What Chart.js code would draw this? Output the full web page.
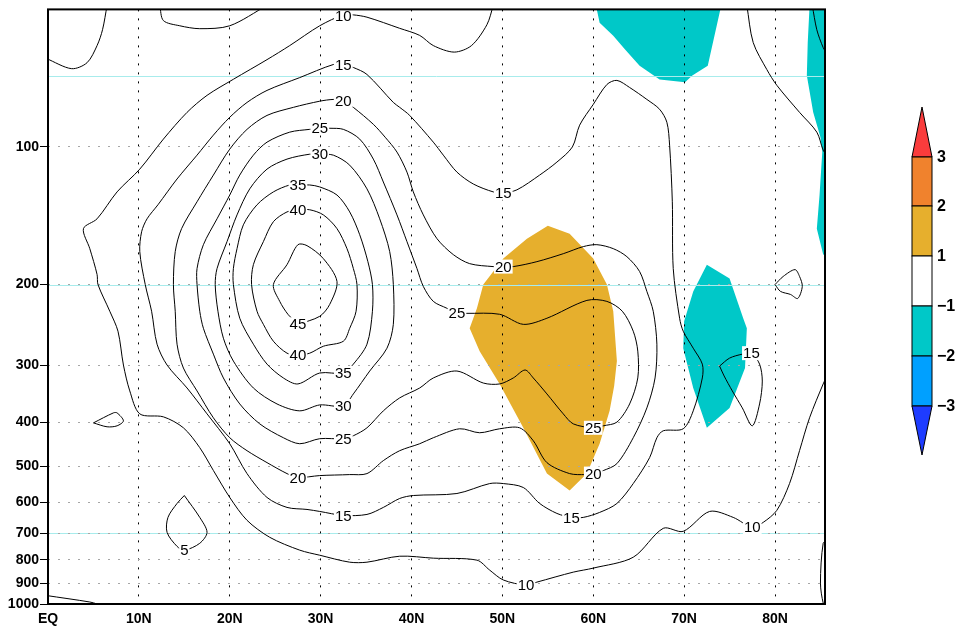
<!DOCTYPE html>
<html lang="en">
<head>
<meta charset="UTF-8">
<title>Zonal wind cross-section</title>
<style>
    body {
        margin: 0;
        background: #fff;
    }
    .wrap {
        width: 965px;
        height: 628px;
    }
</style>
</head>
<body>
<div class="wrap"><canvas id="chart" width="965" height="628"></canvas></div>
<script src="https://cdn.jsdelivr.net/npm/chart.js"></script>
<script>
// axes
const latTicks = [0, 10, 20, 30, 40, 50, 60, 70, 80];
const levTicks = [100, 200, 300, 400, 500, 600, 700, 800, 900, 1000];
const cyanLevels = [70, 200, 700];

// colour key
const cbarLabels = ['3', '2', '1', '\u22121', '\u22122', '\u22123'];
const cbarColors = ['#fa3c3c', '#f0822d', '#e6af2d', '#ffffff', '#00c8c8', '#00a0ff', '#1e3cff'];

// contour lines, [lat, hPa]
const c10 = [[49.0,49],[48.3,54],[46.6,60],[44.7,62],[42.4,60],[40.9,57],[38.7,55],[35.1,52],[33.6,51.4],[32.5,51.4],[29.9,54.3],[26.6,60],[24.1,64.4],[20.4,71.1],[17.5,77.1],[15.3,84],[12.7,96.1],[10.1,111.8],[7.6,125.4],[5.4,143.6],[3.9,150.9],[4.6,166.9],[5.4,190.1],[5.5,200],[6.8,228.8],[7.7,253],[8.3,300],[9.0,341.8],[10.1,383.7],[12.7,389.5],[14.9,411.6],[16.7,454.9],[18.2,510.4],[20.0,584.6],[21.9,656],[24.4,714.6],[27.7,762.4],[29.9,782.1],[33.2,810],[35.1,810],[38.7,786],[42.4,793.8],[47.2,801.8],[48.6,843],[50.1,886],[52.6,909],[53.8,895.6],[57.8,851.7],[60.0,834.6],[64.4,790],[67.7,683],[69.9,693.4],[72.8,627.3],[75.4,646.4],[77.5,679.5],[78.7,662.8],[80.2,623.8],[81.6,545],[82.7,461.7],[83.8,391.4],[85.3,330],[85.8,314]];
const cTopLeft = [[-0.2,64.0],[2.6,67.4],[4.3,65.4],[5.4,60],[6.0,55.4],[6.5,49]];
const cTopU = [[12.3,49],[12.7,52.9],[14.5,54.3],[16.7,55.1],[20.0,54.3],[24.1,49]];
const cTopRight = [[76.9,49],[77.6,59.1],[79.1,67.7],[80.2,73.3],[82.7,84],[84.6,92.8],[85.3,101.6],[85.8,105]];
const cEdgeTop = [[84.1,49],[84.6,55.4],[85.3,60.6],[85.8,63]];
const cEdgeBottom = [[85.8,725],[85.3,736.5],[85.0,900],[85.3,995],[85.6,1010]];
const cBottomLeft = [[-0.2,958],[4.6,990],[5.4,1000],[5.8,1010]];
const cSmall400 = [[5.0,401.5],[7.2,381.8],[7.6,381.8],[8.3,397.4],[7.6,407.5],[6.5,409.5],[5.0,401.5]];
const c5 = [[15.0,578.9],[16.7,646.4],[17.5,697],[16.7,736.5],[15.0,762.6],[14.2,748],[13.1,697],[13.2,646.4],[14.2,602.6],[15.0,578.9]];
const cSmall200 = [[80.0,200],[80.9,192],[82.2,185.5],[82.7,192],[83.0,201.9],[82.5,214.5],[81.7,210.2],[80.6,207],[80.0,200]];
const c15b = [[73.9,301.6],[75.0,289.7],[76.4,284],[77.4,282.6],[78.3,298.6],[78.6,325.2],[78.3,365],[77.5,407.5],[76.4,372.3],[75.3,341.8],[74.4,317],[73.9,301.6]];
const c15 = [[32.5,66.0],[33.6,67.0],[35.1,69.4],[38.0,79.9],[38.7,81.9],[39.8,85.3],[42.4,97.6],[43.5,104.2],[45.0,113.5],[46.8,120.5],[49.0,125.4],[50.1,126],[51.6,124.1],[54.1,115.2],[56.0,107.9],[57.7,100],[58.5,89.6],[60.0,80.7],[61.5,73.0],[62.6,71.5],[64.0,74.1],[65.9,78.7],[67.3,82.7],[68.1,88.3],[68.4,99.1],[68.7,131.8],[68.8,184.5],[69.5,237],[69.9,253],[71.0,275.6],[72.0,298.6],[72.0,320.2],[71.0,377.9],[69.9,413.6],[67.7,417.8],[67.0,432.7],[66.2,478.4],[64.4,545.1],[62.6,602.6],[60.7,630.4],[58.9,646.4],[57.6,646.4],[56.0,633.6],[54.1,602.6],[52.3,556],[50.1,545.1],[48.6,545.1],[45.0,573.1],[40.2,578.9],[38.7,587.6],[36.9,614.7],[35.1,636.8],[32.5,640],[29.9,627.3],[28.5,621],[26.3,614.7],[24.1,584.6],[21.9,518.4],[20.0,446],[17.5,383.7],[15.3,336.8],[13.1,300],[12.0,270.1],[11.4,228.8],[10.7,200],[10.1,169.4],[10.3,153.3],[10.9,143.6],[12.1,133.8],[14.2,117.5],[16.4,104.2],[18.2,94.2],[20.0,86.1],[21.9,79.9],[24.1,75.2],[27.7,70.5],[31.4,66.0],[32.5,66.0]];
const c20 = [[32.5,79.1],[33.6,81.9],[35.8,89.2],[37.1,95.2],[38.4,102.6],[39.5,113.5],[40.2,125.4],[41.3,140.8],[42.8,158.7],[44.6,172],[46.4,180],[49.0,182.7],[50.1,182.7],[51.2,182.7],[53.8,178.2],[56.7,171.2],[58.9,165.2],[60.4,163.6],[62.2,166.9],[63.7,173.8],[65.1,187.3],[65.9,207.1],[66.6,228.8],[67.0,270.1],[66.8,320.2],[65.9,372.3],[64.4,432.7],[62.6,493],[61.1,510.6],[60.0,518.4],[59.1,521],[57.4,518.4],[54.9,490.5],[53.4,439.3],[51.9,411.6],[49.7,413.6],[47.5,422],[45.3,413.6],[42.4,432.7],[40.9,446],[38.7,461.9],[36.9,485.6],[35.1,518.4],[33.2,521],[29.9,523.6],[27.5,528.8],[26.3,518.4],[24.1,490.5],[21.9,461.9],[20.0,432.7],[18.2,391.4],[16.4,341.8],[14.9,304.6],[14.2,270.1],[14.0,228.8],[13.8,200],[14.0,169.4],[14.7,150.9],[16.4,131.8],[18.2,115.2],[20.0,101.1],[21.9,91.5],[24.1,85.3],[27.0,81.9],[29.9,79.4],[31.4,78.7],[32.5,79.1]];
const c25 = [[29.9,91.0],[31.0,91.0],[32.5,91.5],[34.3,96.1],[35.8,106.3],[36.9,119.3],[38.4,140.8],[39.5,161.1],[40.6,184.5],[41.3,201.9],[42.4,217.7],[43.9,225.4],[45.0,231.2],[46.1,231.2],[49.7,232.3],[52.3,244.4],[54.9,237],[59.3,216.6],[61.5,217.7],[63.2,228.8],[64.4,253],[64.9,279.7],[64.9,320.2],[64.0,365],[62.6,400],[61.1,407.5],[60.0,411.6],[57.8,403.5],[56.7,383.7],[54.9,347],[53.4,320.2],[52.5,307.6],[51.2,320.2],[49.7,330],[47.9,328.5],[45.0,309.2],[42.4,320.2],[40.9,336.8],[38.7,354],[36.9,377.9],[35.1,411.6],[33.6,428.4],[32.5,434.8],[29.9,434.8],[27.7,446],[25.9,432.7],[23.3,403.5],[21.1,365],[19.3,320.2],[18.2,284],[17.1,249.3],[16.7,228.8],[16.4,200],[16.4,184.5],[17.1,163.6],[18.6,143.6],[20.0,127.4],[21.1,115.2],[22.6,104.2],[24.1,97.6],[26.6,92.8],[28.8,91.5],[29.9,91.0]];
const c30 = [[29.9,103.7],[31.4,104.2],[33.2,109.6],[35.1,123.5],[36.5,143.6],[37.6,169.4],[38.0,200],[38.0,244.4],[37.3,275.6],[35.4,309.2],[33.6,347],[32.5,368.6],[29.9,366.8],[27.7,377.9],[25.2,365],[22.6,336.8],[20.4,294.1],[19.3,262.1],[18.7,228.8],[18.4,200],[18.6,184.5],[19.7,161.1],[20.8,140.8],[22.2,123.5],[24.1,111.8],[26.3,106.3],[28.8,103.7],[29.9,103.7]];
const c35 = [[27.5,121.1],[28.8,121.1],[29.9,122.3],[31.8,127.4],[33.2,138.7],[34.3,155.6],[35.2,178.2],[35.7,200],[35.7,228.8],[35.1,270.1],[33.6,298.6],[32.5,312.3],[29.9,312.3],[27.5,330],[25.9,320.2],[24.1,298.6],[22.6,270.1],[21.1,237],[20.4,200],[20.4,184.5],[20.8,166.9],[21.5,148],[23.0,133.8],[24.8,125.4],[26.6,121.1],[27.5,121.1]];
const c40 = [[27.5,137.2],[28.8,137.2],[30.3,140.8],[31.8,150.9],[32.9,166.9],[33.6,184.5],[34.0,200],[33.9,228.8],[33.2,249.3],[32.5,266.1],[30.3,272.9],[28.8,282.6],[27.5,285.4],[26.3,282.6],[24.8,266.1],[23.7,244.4],[23.0,228.8],[22.4,200],[22.6,180.9],[23.7,161.1],[24.8,145.7],[26.3,138.7],[27.5,137.2]];
const c45 = [[27.5,244.4],[26.4,232.3],[25.5,217.7],[24.8,200],[26.3,180.9],[27.5,163.6],[28.5,164.4],[30.3,175.5],[31.8,196.9],[31.0,221],[29.9,234.7],[27.5,244.4]];

// shaded areas, [lat, hPa]
const posFill = [[55.0,148.7],[57.4,154.8],[60.0,175.5],[61.5,200],[62.2,228.8],[62.6,294.1],[62.3,333.5],[61.8,377.9],[60.7,446],[59.3,518.4],[57.4,564.5],[54.9,518.4],[52.3,411.6],[49.7,330],[47.5,279.7],[46.4,249.3],[47.2,225.4],[47.9,200],[50.1,175.5],[52.7,158.7]];
const negFillTop = [[59.9,45],[60.7,53.5],[62.2,57.1],[63.5,61.2],[65.1,66.4],[67.3,71.2],[70.1,72.2],[70.9,69.8],[72.6,66.4],[74.5,45]];
const negFillEdge = [[83.9,45],[86,45],[86,173.8],[85.3,172],[84.6,150.9],[84.9,127.4],[85.2,102.6],[85.0,95.2],[84.2,84],[83.5,69.8],[83.6,59.1]];
const negFillMid = [[72.5,180.9],[75.0,194],[76.5,237],[76.9,249.3],[76.7,304.6],[75.0,372.3],[72.5,411.6],[71.0,336.8],[69.9,275.6],[70.0,240.7],[71.0,207.1]];

// contour labels
const labelText = ['10', '15', '20', '25', '30', '35', '40', '45', '40', '35', '30', '25', '20', '15', '5', '15', '20', '25', '25', '20', '15', '10', '10', '15'];
const labelLat = [32.5, 32.5, 32.5, 29.9, 29.9, 27.5, 27.5, 27.5, 27.5, 32.5, 32.5, 32.5, 27.5, 32.5, 15.0, 50.1, 50.1, 45.0, 60.0, 60.0, 57.6, 52.6, 77.5, 77.4];
const labelLev = [51.6, 66.0, 79.1, 91.0, 103.7, 121.1, 137.2, 244.4, 285.4, 312.3, 368.6, 434.8, 528.8, 640, 762.6, 126, 182.7, 231.2, 411.6, 518.4, 646.4, 909, 679.5, 282.6];

const contours = [c10, cTopLeft, cTopU, cTopRight, cEdgeTop, cEdgeBottom, cBottomLeft, cSmall400, c5, cSmall200, c15b, c15, c20, c25, c30, c35, c40, c45];
const shading = [
    { pts: posFill, color: cbarColors[2] },
    { pts: negFillTop, color: cbarColors[4] },
    { pts: negFillEdge, color: cbarColors[4] },
    { pts: negFillMid, color: cbarColors[4] }
];

const tickFont = { family: 'Liberation Sans', size: 14, weight: 'bold' };

// shaded areas and the light cyan levels go under the grid
const shadePlugin = {
    id: 'shade',
    beforeDraw(chart) {
        const { ctx, chartArea: a, scales: { x, y } } = chart;
        ctx.save();
        ctx.beginPath();
        ctx.rect(a.left, a.top, a.width, a.height);
        ctx.clip();
        shading.forEach(s => {
            ctx.fillStyle = s.color;
            ctx.beginPath();
            s.pts.forEach(([lat, lev], i) => {
                const px = x.getPixelForValue(lat);
                const py = y.getPixelForValue(lev);
                if (i === 0) ctx.moveTo(px, py); else ctx.lineTo(px, py);
            });
            ctx.closePath();
            ctx.fill();
        });
        ctx.strokeStyle = '#a8ecec';
        ctx.lineWidth = 1;
        cyanLevels.forEach(lev => {
            const py = Math.round(y.getPixelForValue(lev)) + 0.5;
            ctx.beginPath();
            ctx.moveTo(a.left, py);
            ctx.lineTo(a.right, py);
            ctx.stroke();
        });
        ctx.restore();
    }
};

// contour labels and the frame
const labelPlugin = {
    id: 'contourLabels',
    afterDatasetsDraw(chart) {
        const { ctx, chartArea: a, scales: { x, y } } = chart;
        ctx.save();
        ctx.font = '15px "Liberation Sans"';
        ctx.textAlign = 'center';
        ctx.textBaseline = 'middle';
        labelText.forEach((t, i) => {
            const px = x.getPixelForValue(labelLat[i]);
            const py = y.getPixelForValue(labelLev[i]);
            const w = ctx.measureText(t).width;
            ctx.fillStyle = '#fff';
            ctx.fillRect(px - w / 2 - 1, py - 7, w + 2, 14);
            ctx.fillStyle = '#000';
            ctx.fillText(t, px, py + 1);
        });
        ctx.lineWidth = 2;
        ctx.strokeStyle = '#000';
        ctx.strokeRect(a.left, a.top, a.width, a.height);
        ctx.restore();
    }
};

// colour bar on the right
const cbarPlugin = {
    id: 'cbar',
    afterDraw(chart) {
        const ctx = chart.ctx;
        const left = 912, right = 932, mid = 922;
        const tipTop = 107, tipBottom = 455;
        const edges = [157, 206, 256, 306, 356, 406];
        ctx.save();
        ctx.lineWidth = 1;
        ctx.strokeStyle = '#000';
        // top triangle
        ctx.fillStyle = cbarColors[0];
        ctx.beginPath();
        ctx.moveTo(mid, tipTop);
        ctx.lineTo(right, edges[0]);
        ctx.lineTo(left, edges[0]);
        ctx.closePath();
        ctx.fill();
        ctx.stroke();
        // boxes
        for (let i = 0; i < edges.length - 1; i++) {
            ctx.fillStyle = cbarColors[i + 1];
            ctx.fillRect(left, edges[i], right - left, edges[i + 1] - edges[i]);
            ctx.strokeRect(left, edges[i], right - left, edges[i + 1] - edges[i]);
        }
        // bottom triangle
        ctx.fillStyle = cbarColors[6];
        ctx.beginPath();
        ctx.moveTo(left, edges[5]);
        ctx.lineTo(right, edges[5]);
        ctx.lineTo(mid, tipBottom);
        ctx.closePath();
        ctx.fill();
        ctx.stroke();
        // labels
        ctx.fillStyle = '#000';
        ctx.font = 'bold 16px "Liberation Sans"';
        ctx.textAlign = 'left';
        ctx.textBaseline = 'middle';
        cbarLabels.forEach((t, i) => {
            ctx.fillText(t, 937, edges[i] + 1);
        });
        ctx.restore();
    }
};

const ctx = document.getElementById('chart').getContext('2d');
new Chart(ctx, {
    type: 'scatter',
    data: {
        datasets: contours.map(pts => ({
            data: pts.map(([lat, lev]) => ({ x: lat, y: lev })),
            showLine: true,
            borderColor: '#000',
            borderWidth: 1,
            pointRadius: 0,
            tension: 0.3,
            fill: false
        }))
    },
    options: {
        responsive: false,
        animation: false,
        layout: { padding: { left: 0, top: 3, right: 140, bottom: 0 } },
        plugins: {
            legend: { display: false },
            tooltip: { enabled: false }
        },
        scales: {
            x: {
                type: 'linear',
                min: 0,
                max: 85.5,
                afterBuildTicks: scale => { scale.ticks = latTicks.map(v => ({ value: v })); },
                afterFit: scale => { scale.height = 24; },
                grid: { color: '#000', lineWidth: 1, drawTicks: false },
                border: { display: false, dash: [2, 7] },
                ticks: {
                    color: '#000',
                    font: tickFont,
                    padding: 7,
                    maxRotation: 0,
                    callback: v => v === 0 ? 'EQ' : v + 'N'
                }
            },
            y: {
                type: 'logarithmic',
                reverse: true,
                min: 50,
                max: 1000,
                afterBuildTicks: scale => { scale.ticks = levTicks.map(v => ({ value: v })); },
                afterFit: scale => { scale.width = 48; },
                grid: { color: '#a6a6a6', lineWidth: 1, tickColor: '#000', tickLength: 8 },
                border: { display: false, dash: [2, 8] },
                ticks: {
                    color: '#000',
                    font: tickFont,
                    padding: 1,
                    autoSkip: false,
                    callback: v => String(v)
                }
            }
        }
    },
    plugins: [shadePlugin, labelPlugin, cbarPlugin]
});
</script>
</body>
</html>
